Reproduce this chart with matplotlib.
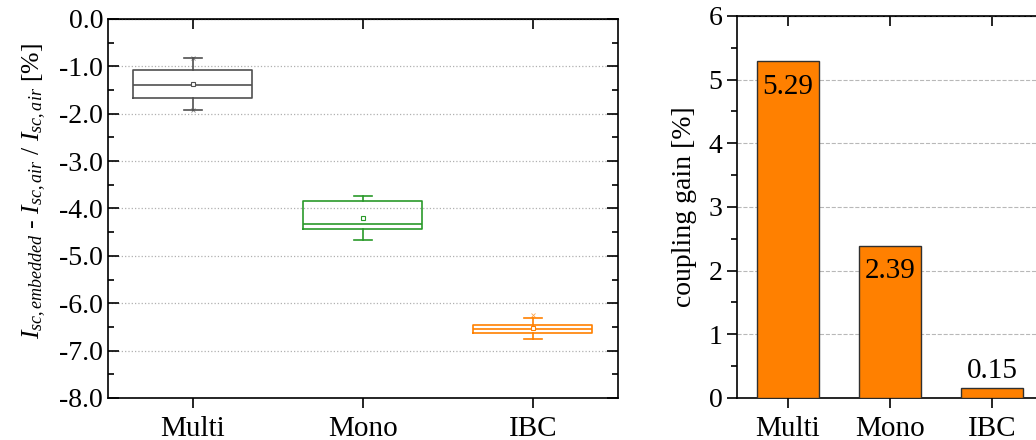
import numpy as np
import matplotlib
matplotlib.use("Agg")
import matplotlib.pyplot as plt
from matplotlib.ticker import MultipleLocator, FormatStrFormatter

plt.rcParams['font.family'] = ['Liberation Serif', 'DejaVu Serif']
plt.rcParams['mathtext.fontset'] = 'custom'
plt.rcParams['mathtext.rm'] = 'Liberation Serif'
plt.rcParams['mathtext.it'] = 'Liberation Serif:italic'
plt.rcParams['axes.unicode_minus'] = False

# 数据
categories = ['Multi', 'Mono', 'IBC']
whisker_hi = [-0.83, -3.73, -6.32]
box_hi = [-1.07, -3.84, -6.47]
medians = [-1.40, -4.32, -6.54]
box_lo = [-1.67, -4.43, -6.62]
whisker_lo = [-1.93, -4.67, -6.76]
means = [-1.37, -4.20, -6.53]
extremes = [[-0.83, -1.93], [], [-6.24]]
box_colors = ['#505050', '#2a9a2a', '#ff8000']

gain = [5.29, 2.39, 0.15]

fig = plt.figure(figsize=(10.36, 4.4), dpi=100)

# 左图：箱线图
ax1 = fig.add_axes([0.1042, 0.0955, 0.4923, 0.8614])
pos = np.arange(1, len(categories) + 1)
for i, c in enumerate(box_colors):
    st = [dict(med=medians[i], q1=box_lo[i], q3=box_hi[i],
               whislo=whisker_lo[i], whishi=whisker_hi[i],
               mean=means[i], fliers=extremes[i], label=categories[i])]
    ax1.bxp(st, positions=[pos[i]], widths=0.7, capwidths=0.11,
            showmeans=True, patch_artist=False,
            boxprops=dict(color=c, lw=1.2),
            medianprops=dict(color=c, lw=1.2),
            whiskerprops=dict(color=c, lw=1.2),
            capprops=dict(color=c, lw=1.2),
            meanprops=dict(marker='s', markersize=3.5, markerfacecolor='white',
                           markeredgecolor=c, markeredgewidth=0.8),
            flierprops=dict(marker='x', markersize=3, markeredgecolor=c,
                            markeredgewidth=0.6, alpha=0.7))
ax1.set_xlim(0.5, 3.5)
ax1.set_ylim(-8, 0)
ax1.set_xticks(pos)
ax1.set_xticklabels(categories)
ax1.yaxis.set_major_locator(MultipleLocator(1))
ax1.yaxis.set_minor_locator(MultipleLocator(0.5))
ax1.yaxis.set_major_formatter(FormatStrFormatter('%.1f'))
ax1.tick_params(axis='y', which='both', direction='in', left=True, right=True,
                labelsize=20, width=1.2)
ax1.tick_params(axis='y', which='major', length=8)
ax1.tick_params(axis='y', which='minor', length=4)
ax1.tick_params(axis='x', which='major', direction='out', length=7, width=1.2,
                labelsize=21, pad=6)
ax1.grid(axis='y', which='major', linestyle=':', color='#b0b0b0', lw=0.9)
ax1.set_ylabel(r'$I_{sc,embedded}$ - $I_{sc,air}$ / $I_{sc,air}$ [%]', fontsize=18.5)
ax1.yaxis.set_label_coords(-0.118, 0.545)
sec = ax1.secondary_xaxis('top')
sec.set_xticks(pos)
sec.set_xticklabels([])
sec.tick_params(direction='in', length=7, width=1.2)
for s in ax1.spines.values():
    s.set_linewidth(1.2)

# 右图：柱状图
ax2 = fig.add_axes([0.7114, 0.0955, 0.2954, 0.8682])
ax2.bar(pos, gain, width=0.6, color='#ff8000', edgecolor='#303030', lw=1.0, zorder=3)
for x, v in zip(pos, gain):
    if v > 1:
        ax2.annotate(f'{v:.2f}', (x, v), xytext=(0, -9), textcoords='offset points',
                     ha='center', va='top', fontsize=21, zorder=4)
    else:
        ax2.annotate(f'{v:.2f}', (x, v), xytext=(0, 3), textcoords='offset points',
                     ha='center', va='bottom', fontsize=21, zorder=4)
ax2.set_xlim(0.5, 3.5)
ax2.set_ylim(0, 6)
ax2.set_xticks(pos)
ax2.set_xticklabels(categories)
ax2.yaxis.set_major_locator(MultipleLocator(1))
ax2.yaxis.set_minor_locator(MultipleLocator(0.5))
ax2.tick_params(axis='y', which='both', direction='out', left=True, right=False,
                labelsize=20, width=1.2)
ax2.tick_params(axis='y', which='major', length=7)
ax2.tick_params(axis='y', which='minor', length=4)
ax2.tick_params(axis='x', which='major', direction='out', length=7, width=1.2,
                labelsize=21, pad=6)
ax2.grid(axis='y', which='major', linestyle='--', color='#b8b8b8', lw=0.8, zorder=0)
ax2.set_ylabel('coupling gain [%]', fontsize=20, labelpad=8)
sec2 = ax2.secondary_xaxis('top')
sec2.set_xticks(pos)
sec2.set_xticklabels([])
sec2.tick_params(direction='in', length=7, width=1.2)
for s in ax2.spines.values():
    s.set_linewidth(1.2)

fig.savefig('out.png', dpi=100)
